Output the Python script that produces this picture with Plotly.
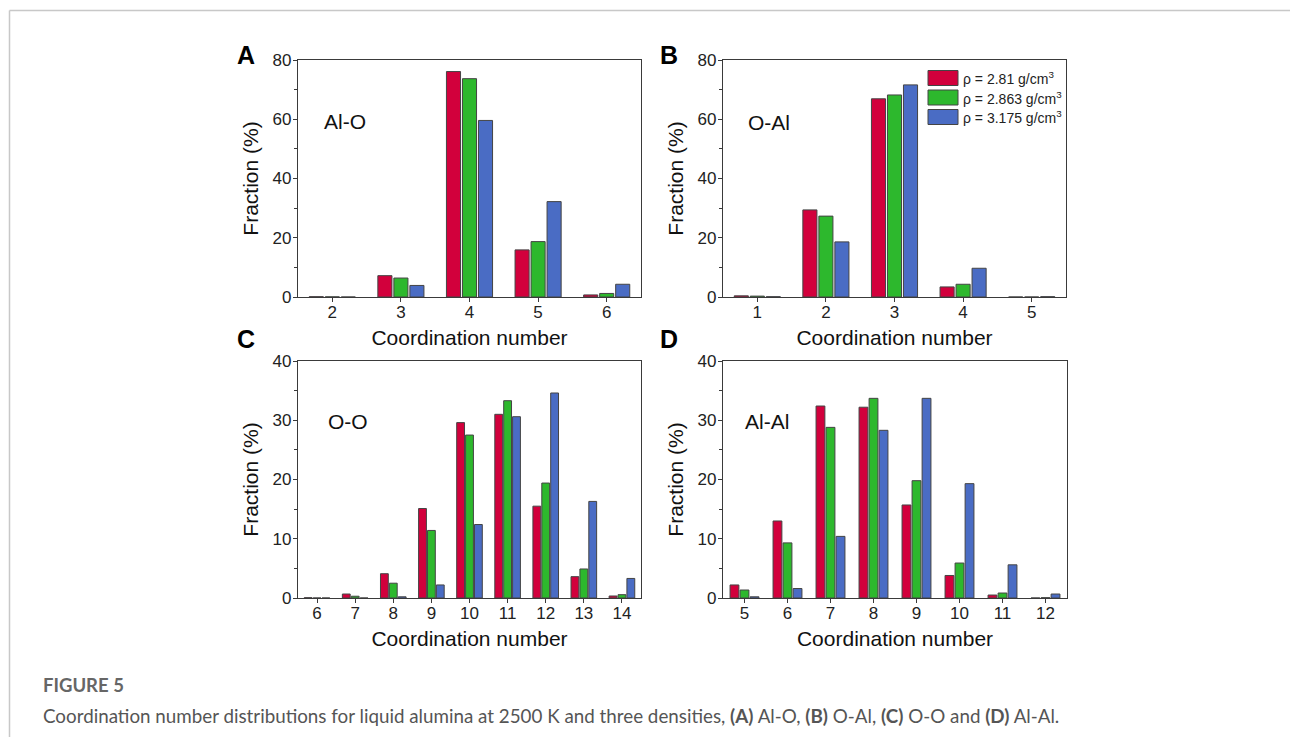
import plotly.graph_objects as go

# ---------------- data ----------------
densities = ["ρ = 2.81 g/cm<sup>3</sup>", "ρ = 2.863 g/cm<sup>3</sup>", "ρ = 3.175 g/cm<sup>3</sup>"]
colors = ["#D2003C", "#2DB82D", "#4A6CC4"]

cn_alo = [2, 3, 4, 5, 6]
alo_281 = [0.1, 7.2, 76.1, 15.9, 0.7]
alo_2863 = [0.05, 6.4, 73.7, 18.7, 1.2]
alo_3175 = [0.0, 3.9, 59.6, 32.2, 4.3]

cn_oal = [1, 2, 3, 4, 5]
oal_281 = [0.4, 29.4, 66.9, 3.4, 0.0]
oal_2863 = [0.3, 27.3, 68.2, 4.3, 0.0]
oal_3175 = [0.1, 18.6, 71.6, 9.7, 0.1]

cn_oo = [6, 7, 8, 9, 10, 11, 12, 13, 14]
oo_281 = [0.05, 0.67, 4.1, 15.1, 29.6, 31.0, 15.5, 3.6, 0.34]
oo_2863 = [0.0, 0.3, 2.5, 11.4, 27.5, 33.3, 19.4, 4.9, 0.56]
oo_3175 = [0.0, 0.0, 0.2, 2.2, 12.4, 30.6, 34.6, 16.3, 3.3]

cn_alal = [5, 6, 7, 8, 9, 10, 11, 12]
alal_281 = [2.2, 13.0, 32.4, 32.2, 15.7, 3.8, 0.5, 0.0]
alal_2863 = [1.35, 9.3, 28.8, 33.7, 19.8, 5.9, 0.84, 0.05]
alal_3175 = [0.2, 1.6, 10.4, 28.3, 33.7, 19.3, 5.6, 0.67]

panels = [
    ("A", "Al-O", cn_alo, [alo_281, alo_2863, alo_3175], [1.5, 6.5], [0, 80], 20),
    ("B", "O-Al", cn_oal, [oal_281, oal_2863, oal_3175], [0.5, 5.5], [0, 80], 20),
    ("C", "O-O", cn_oo, [oo_281, oo_2863, oo_3175], [5.5, 14.5], [0, 40], 10),
    ("D", "Al-Al", cn_alal, [alal_281, alal_2863, alal_3175], [4.5, 12.5], [0, 40], 10),
]

W, H = 1290, 737
FONT = "Liberation Sans, Arial, sans-serif"
AX = "#3a3a3a"
EDGE = "#444"

# pixel boxes of the four plot areas (left, right, top, bottom)
boxes = [(298, 641, 60, 297), (723, 1066, 60, 297), (298, 641, 361, 598), (723, 1067, 361, 598)]
letter_pos = [(246, 55), (669, 55), (246, 339), (669, 339)]
label_pos = [(322, 121), (746, 122), (326, 422), (743, 422)]

fig = go.Figure()
layout = dict(
    width=W, height=H, margin=dict(l=0, r=0, t=0, b=0, autoexpand=False),
    paper_bgcolor="white", plot_bgcolor="white",
    barmode="group", bargap=0.3, bargroupgap=0.12,
    font=dict(family=FONT, color="#222"),
    showlegend=False,
)
annotations = []
shapes = []
for i, (letter, name, cn, series, xr, yr, dt) in enumerate(panels):
    k = "" if i == 0 else str(i + 1)
    l, r, t, b = boxes[i]
    for j in range(3):
        fig.add_trace(go.Bar(
            x=cn, y=series[j], name=densities[j],
            marker=dict(color=colors[j], line=dict(color=EDGE, width=1)),
            xaxis="x" + k, yaxis="y" + k,
        ))
    layout["xaxis" + k] = dict(
        domain=[l / W, r / W], range=xr, anchor="y" + k, automargin=False,
        tickmode="array", tickvals=cn, ticktext=[str(c) for c in cn],
        ticks="outside", ticklen=4, tickwidth=1.2, tickcolor=AX, ticklabelstandoff=-5,
        showline=True, mirror=True, linecolor=AX, linewidth=1.3,
        showgrid=False, zeroline=False,
        tickfont=dict(size=17, family=FONT, color="#222"),
        title=dict(text="Coordination number", font=dict(size=21, family=FONT, color="#111"), standoff=9),
    )
    layout["yaxis" + k] = dict(
        domain=[1 - b / H, 1 - t / H], range=yr, anchor="x" + k, automargin=False,
        dtick=dt, ticks="outside", ticklen=4, tickwidth=1.2, tickcolor=AX, ticklabelstandoff=-2,
        minor=dict(ticks="outside", ticklen=3, dtick=dt / 2, tickcolor=AX, tickwidth=1),
        showline=True, mirror=True, linecolor=AX, linewidth=1.3,
        showgrid=False, zeroline=False,
        tickfont=dict(size=17, family=FONT, color="#222"),
        title=dict(text="Fraction (%)", font=dict(size=21, family=FONT, color="#111"), standoff=8),
    )
    lx, ly = letter_pos[i]
    annotations.append(dict(text="<b>%s</b>" % letter, x=lx / W, y=1 - ly / H, xref="paper", yref="paper",
                            showarrow=False, xanchor="center", yanchor="middle",
                            font=dict(size=25, family=FONT, color="#000")))
    px, py = label_pos[i]
    annotations.append(dict(text=name, x=px / W, y=1 - py / H, xref="paper", yref="paper",
                            showarrow=False, xanchor="left", yanchor="middle",
                            font=dict(size=21, family=FONT, color="#111")))

# legend (inside panel B): swatches + labels
leg_rows = [78, 97.5, 117]
for j in range(3):
    yc = leg_rows[j]
    shapes.append(dict(type="rect", xref="paper", yref="paper",
                       x0=928 / W, x1=958 / W, y0=1 - (yc + 7.5) / H, y1=1 - (yc - 7.5) / H,
                       fillcolor=colors[j], line=dict(color=EDGE, width=1)))
    annotations.append(dict(text=densities[j], x=961 / W, y=1 - yc / H, xref="paper", yref="paper",
                            showarrow=False, xanchor="left", yanchor="middle",
                            font=dict(size=14, family=FONT, color="#222")))

CAP = "Lato, Open Sans, sans-serif"
annotations.append(dict(text="<b>FIGURE 5</b>", x=41 / W, y=1 - 685 / H, xref="paper", yref="paper",
                        showarrow=False, xanchor="left", yanchor="middle",
                        font=dict(size=18.5, family=CAP, color="#666")))
annotations.append(dict(
    text="Coordination number distributions for liquid alumina at 2500 K and three densities, "
         "<b>(A)</b> Al-O, <b>(B)</b> O-Al, <b>(C)</b> O-O and <b>(D)</b> Al-Al.",
    x=41 / W, y=1 - 715 / H, xref="paper", yref="paper",
    showarrow=False, xanchor="left", yanchor="middle",
    font=dict(size=18.8, family=CAP, color="#555")))
layout["annotations"] = annotations
shapes += [
    dict(type="line", xref="paper", yref="paper", x0=9.5 / W, x1=1, y0=1 - 10.5 / H, y1=1 - 10.5 / H,
         line=dict(color="#c8c8c8", width=1.5)),
    dict(type="line", xref="paper", yref="paper", x0=9.5 / W, x1=9.5 / W, y0=0, y1=1 - 10.5 / H,
         line=dict(color="#c8c8c8", width=1.5)),
]
layout["shapes"] = shapes
fig.update_layout(**layout)
fig.write_html("out.html")
